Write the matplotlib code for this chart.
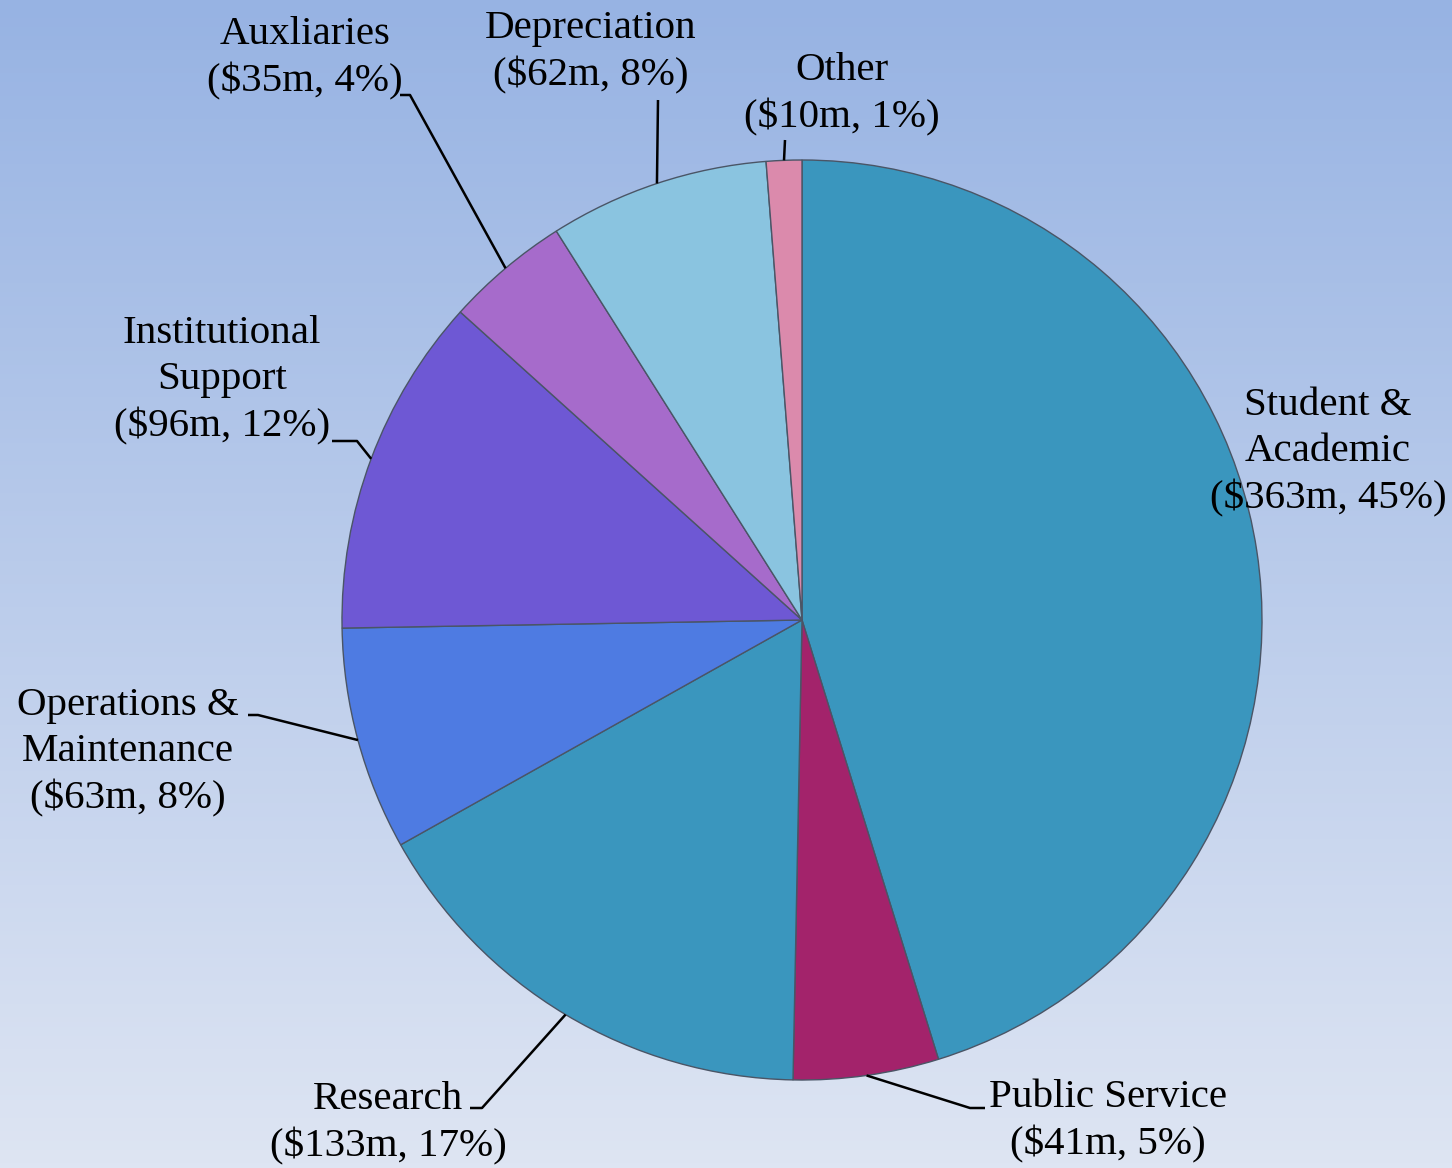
import numpy as np
import matplotlib
matplotlib.use("Agg")
import matplotlib.pyplot as plt
from matplotlib.colors import LinearSegmentedColormap

# ---- data ----
categories = ["Student &\nAcademic", "Public Service", "Research", "Operations &\nMaintenance",
              "Institutional\nSupport", "Auxliaries", "Depreciation", "Other"]
values = [363, 41, 133, 63, 96, 35, 62, 10]
percents = [45, 5, 17, 8, 12, 4, 8, 1]
colors = ["#3A96BE", "#A3236B", "#3A96BE", "#4E7BE2", "#6E58D4", "#A66BCB", "#8AC4E0", "#DB8AAC"]

W, H = 1452, 1168
fig = plt.figure(figsize=(W / 100, H / 100), dpi=100)

# background gradient
bg = fig.add_axes([0, 0, 1, 1])
grad = np.linspace(0, 1, 256).reshape(-1, 1)
cmap = LinearSegmentedColormap.from_list("bg", ["#97B3E3", "#DEE5F3"])
bg.imshow(grad, aspect="auto", cmap=cmap, extent=[0, 1, 1, 0])
bg.set_axis_off()

# pie geometry (pixels)
cx, cy, R = 802, 620, 460
ax = fig.add_axes([(cx - R) / W, (H - cy - R) / H, 2 * R / W, 2 * R / H])
wedges, _ = ax.pie(values, colors=colors, startangle=90, counterclock=False, radius=1,
                   wedgeprops=dict(edgecolor="#4A5566", linewidth=1.0))
ax.set_xlim(-1, 1)
ax.set_ylim(-1, 1)
ax.set_aspect("equal")
ax.set_axis_off()


def px(x, y):
    return (x - cx) / R, (cy - y) / R


# label layout: centre of text block (px), leader path points (px, excluding the wedge end)
layout = [
    ((1328, 452), None),
    ((1108, 1121), [(985, 1108), (970, 1108)]),
    ((388, 1123), [(470, 1108), (482, 1108)]),
    ((128, 752), [(248, 715), (258, 715)]),
    ((222, 380), [(332, 441), (357, 441)]),
    ((305, 58), [(400, 95), (410, 95)]),
    ((591, 52), [(658, 100)]),
    ((842, 94), [(785, 140)]),
]

font = dict(family=["Liberation Serif", "DejaVu Serif"], size=29.5)

for w, cat, v, p, (tpos, path) in zip(wedges, categories, values, percents, layout):
    label = f"{cat}\n(${v}m, {p}%)"
    tx, ty = px(*tpos)
    ax.text(tx, ty, label, ha="center", va="center", linespacing=1.32,
            color="black", clip_on=False, **font)
    if path:
        mid = np.deg2rad((w.theta1 + w.theta2) / 2)
        ex, ey = np.cos(mid), np.sin(mid)
        pts = [px(*q) for q in path] + [(ex, ey)]
        xs, ys = zip(*pts)
        ax.plot(xs, ys, color="black", lw=1.8, clip_on=False, solid_capstyle="butt")

fig.savefig("out.png", dpi=100)
